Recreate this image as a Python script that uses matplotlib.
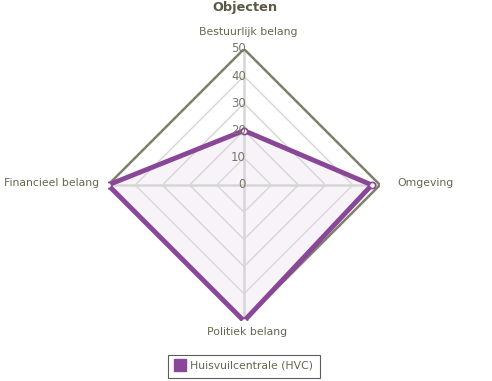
import numpy as np
import matplotlib.pyplot as plt
from matplotlib.lines import Line2D

# data
categories = ['Bestuurlijk belang', 'Omgeving', 'Politiek belang', 'Financieel belang']
values = [20, 47, 50, 50]
ring_ticks = [0, 10, 20, 30, 40, 50]
series_name = 'Huisvuilcentrale (HVC)'

purple = '#8a4697'
txt = '#66664f'

fig = plt.figure(figsize=(4.92, 3.81), dpi=100)
W, H = 492, 381
cx, cy, R = 244, 381 - 185, 136
ax = fig.add_axes([(cx - R) / W, (cy - R) / H, 2 * R / W, 2 * R / H], projection='polar')
ax.set_theta_offset(np.pi / 2)
ax.set_theta_direction(-1)
ax.set_ylim(0, 50)
ax.grid(False)
ax.spines['polar'].set_visible(False)
ax.set_xticks([])
ax.set_yticks([])
ax.patch.set_alpha(0)

theta = np.linspace(0, 2 * np.pi, len(categories), endpoint=False)
closed_t = np.append(theta, theta[0])

# rings
for r in ring_ticks[1:]:
    if r == ring_ticks[-1]:
        ax.plot(closed_t, [r] * len(closed_t), color='#7f7f6e', lw=1.8, zorder=3)
    else:
        ax.plot(closed_t, [r] * len(closed_t), color='#d6d6d6', lw=1, zorder=1)
# spokes
for t in theta:
    ax.plot([t, t], [0, 50], color='#d6d6d6', lw=1.8, zorder=1)

vals = np.append(values, values[0])
ax.fill(closed_t, vals, color='#f7f3f8', zorder=0)
ax.plot(closed_t, vals, color=purple, lw=3.5, zorder=4, solid_joinstyle='miter')
ax.plot(theta, values, 'o', ms=4.5, mfc='white', mec=purple, mew=1.2, zorder=5)

# tick labels along top spoke
for r in ring_ticks:
    ax.annotate(str(r), xy=(0, r), xytext=(2, 0), textcoords='offset pixels',
                ha='right', va='center', fontsize=8.5, color='#77776a', zorder=6)

# category labels
offsets = [((4, 17), 'center'), ((17, 2), 'left'), ((3, -11), 'center'), ((-9, 2), 'right')]
for t, lab, (off, ha) in zip(theta, categories, offsets):
    ax.annotate(lab, xy=(t, 50), xytext=off, textcoords='offset pixels',
                ha=ha, va='center', fontsize=7.8, color=txt, annotation_clip=False)

fig.text(245 / W, 1 - 8 / H, 'Objecten', ha='center', va='center',
         fontsize=9.3, fontweight='bold', color='#5a5a44')

handle = Line2D([], [], marker='s', ls='none', ms=8, mfc=purple, mec=purple)
leg = fig.legend([handle], [series_name], loc='center', bbox_to_anchor=(244 / W, 1 - 366 / H),
                 frameon=True, fancybox=False, fontsize=7.8, handletextpad=0.45,
                 borderpad=0.6, handlelength=1.0, labelcolor=txt)
leg.get_frame().set_edgecolor('#333333')
leg.get_frame().set_linewidth(0.8)

fig.savefig('out.png', dpi=100)
